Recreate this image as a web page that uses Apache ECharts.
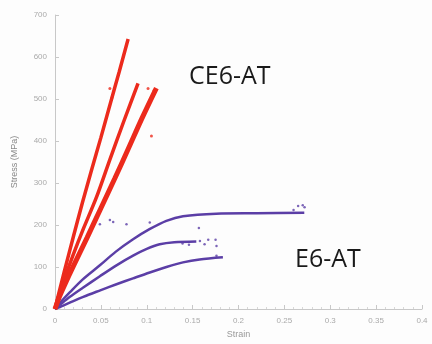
<!DOCTYPE html>
<html>
<head>
<meta charset="utf-8">
<script src="https://cdn.jsdelivr.net/npm/echarts@6/dist/echarts.min.js"></script>
<style>
  html, body { margin: 0; padding: 0; background: #fdfdfd; }
  #chart { width: 432px; height: 344px; }
</style>
</head>
<body>
<div id="chart"></div>
<script>
// stress-strain curves, [strain, stress (MPa)]
var ce6_a = [[0, 0], [0.005, 45], [0.01, 88], [0.02, 172], [0.03, 254], [0.04, 332], [0.05, 408], [0.06, 487], [0.07, 565], [0.0797, 643]];
var ce6_b = [[0, 0], [0.005, 38], [0.01, 70], [0.02, 130], [0.03, 186], [0.045, 265], [0.06, 357], [0.075, 447], [0.0905, 537]];
var ce6_c = [[0, 0], [0.005, 30], [0.01, 55], [0.02, 102], [0.035, 170], [0.05, 240], [0.065, 310], [0.08, 382], [0.095, 455], [0.1105, 526]];
var e6_a = [[0, 0], [0.006, 16], [0.0163, 40], [0.03, 70], [0.0489, 104], [0.066, 136], [0.0851, 166], [0.103, 190], [0.1214, 210], [0.1395, 221], [0.1757, 227], [0.22, 228], [0.2717, 229]];
var e6_b = [[0, 0], [0.006, 11], [0.0163, 29], [0.03, 50], [0.0489, 78], [0.067, 104], [0.0851, 127], [0.1, 143], [0.1141, 154], [0.13, 159], [0.154, 161]];
var e6_c = [[0, 0], [0.009, 8], [0.02, 19], [0.0308, 29], [0.05, 45], [0.067, 59], [0.085, 73], [0.1033, 87], [0.1215, 100], [0.1395, 111], [0.1576, 118], [0.183, 123]];
var redDots = [[0.0598, 525], [0.1014, 525], [0.1051, 412], [0.062, 503], [0.108, 520]];
var blueDots = [[0.0489, 202], [0.0598, 212], [0.0634, 207], [0.0779, 202], [0.1033, 206], [0.1568, 193], [0.139, 156], [0.146, 153], [0.158, 162], [0.163, 154], [0.167, 165], [0.175, 165], [0.176, 150], [0.176, 127], [0.265, 245], [0.27, 247], [0.272, 242], [0.26, 236]];
var yTicks = [0, 100, 200, 300, 400, 500, 600, 700];
var xTicks = [0, 0.05, 0.1, 0.15, 0.2, 0.25, 0.3, 0.35, 0.4];

var chart = echarts.init(document.getElementById("chart"));
var red = "#ec2a1c";
var blue = "#5b3ea6";
function curve(data, color, width) {
  return {
    type: "line",
    data: data,
    showSymbol: false,
    smooth: 0.3,
    lineStyle: { color: color, width: width },
    z: color === red ? 3 : 2,
  };
}
chart.setOption({
  backgroundColor: "#fdfdfd",
  animation: false,
  grid: { left: 55, right: 10, top: 15, bottom: 34 },
  xAxis: {
    type: "value",
    min: 0,
    max: 0.4,
    interval: 0.05,
    name: "Strain",
    nameLocation: "middle",
    nameGap: 21,
    nameTextStyle: { color: "#999", fontSize: 9 },
    axisLine: { lineStyle: { color: "#c8c8c8" } },
    axisTick: { inside: true, length: 4, lineStyle: { color: "#c8c8c8" } },
    minorTick: { show: true, splitNumber: 5, length: 2, lineStyle: { color: "#d8d8d8" } },
    axisLabel: { color: "#aaa", fontSize: 8, formatter: function (v) { return xTicks.indexOf(+v.toFixed(2)) >= 0 ? String(+v.toFixed(2)) : ""; } },
    splitLine: { show: false },
  },
  yAxis: {
    type: "value",
    min: 0,
    max: 700,
    interval: 100,
    name: "Stress (MPa)",
    nameLocation: "middle",
    nameGap: 36,
    nameTextStyle: { color: "#888", fontSize: 9 },
    axisLine: { show: true, lineStyle: { color: "#c8c8c8" } },
    axisTick: { show: true, inside: true, length: 4, lineStyle: { color: "#c8c8c8" } },
    axisLabel: { color: "#aaa", fontSize: 8, formatter: function (v) { return yTicks.indexOf(v) >= 0 ? String(v) : ""; } },
    splitLine: { show: false },
  },
  graphic: [
    { type: "text", left: 189, top: 64, style: { text: "CE6-AT", font: "25px 'Open Sans', sans-serif", fill: "#1a1a1a" } },
    { type: "text", left: 295, top: 247, style: { text: "E6-AT", font: "25px 'Open Sans', sans-serif", fill: "#1a1a1a" } },
  ],
  series: [
    curve(e6_a, blue, 2.5),
    curve(e6_b, blue, 2.5),
    curve(e6_c, blue, 2.5),
    curve(ce6_a, red, 3.5),
    curve(ce6_b, red, 3.5),
    curve(ce6_c, red, 5),
    { type: "scatter", data: redDots, symbolSize: 3, itemStyle: { color: red } },
    { type: "scatter", data: blueDots, symbolSize: 2.5, itemStyle: { color: blue } },
  ],
});
</script>
</body>
</html>
